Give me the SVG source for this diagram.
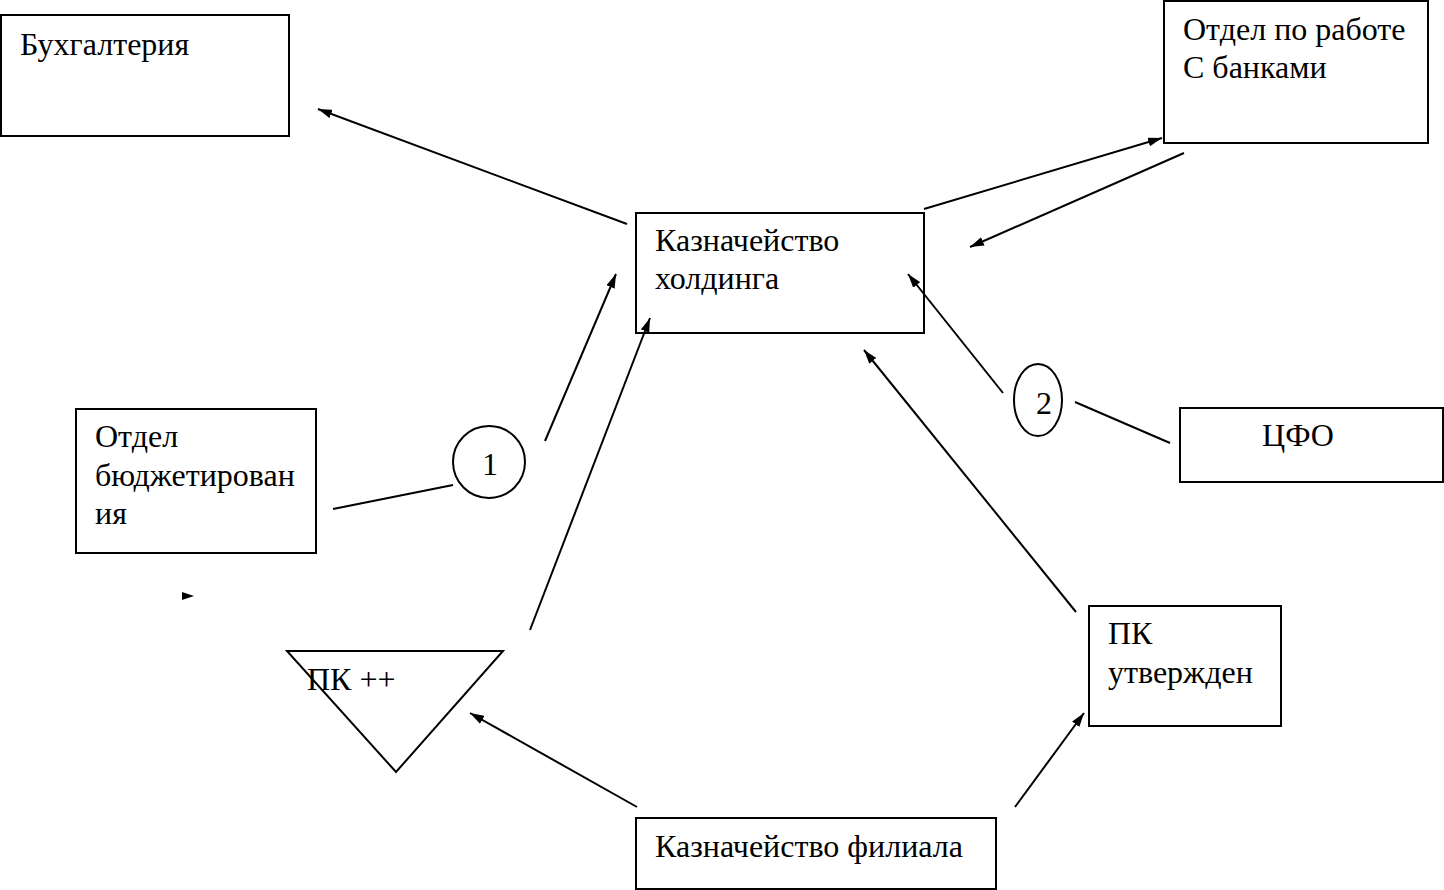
<svg xmlns="http://www.w3.org/2000/svg" width="1444" height="890" viewBox="0 0 1444 890">
<defs>
<marker id="ah" viewBox="0 0 14 9" refX="14" refY="4.5" markerWidth="14" markerHeight="9" markerUnits="userSpaceOnUse" orient="auto">
<path d="M0,0 L14,4.5 L0,9 Z" fill="#000"/>
</marker>
</defs>
<style>
.box{fill:#fff;stroke:#000;stroke-width:2}
.t{font-family:"Liberation Serif","Times New Roman",serif;font-size:32px;fill:#000}
.c{stroke:#000;stroke-width:2;fill:none}
.a{marker-end:url(#ah)}
</style>
<rect width="1444" height="890" fill="#fff"/>
<g id="buh">
<rect class="box" x="1" y="15" width="288" height="121"/>
<text class="t" x="20" y="55">Бухгалтерия</text>
</g>
<g id="banks">
<rect class="box" x="1164" y="1" width="264" height="142"/>
<text class="t" x="1183" y="40">Отдел по работе</text>
<text class="t" x="1183" y="78">С банками</text>
</g>
<g id="holding">
<rect class="box" x="636" y="213" width="288" height="120"/>
<text class="t" x="655" y="251">Казначейство</text>
<text class="t" x="655" y="289">холдинга</text>
</g>
<g id="budget">
<rect class="box" x="76" y="409" width="240" height="144"/>
<text class="t" x="95" y="447">Отдел</text>
<text class="t" x="95" y="486">бюджетирован</text>
<text class="t" x="95" y="524">ия</text>
</g>
<g id="cfo">
<rect class="box" x="1180" y="408" width="263" height="74"/>
<text class="t" x="1298" y="446" text-anchor="middle">ЦФО</text>
</g>
<g id="pk-approved">
<rect class="box" x="1089" y="606" width="192" height="120"/>
<text class="t" x="1108" y="644">ПК</text>
<text class="t" x="1108" y="683">утвержден</text>
</g>
<g id="branch">
<rect class="box" x="636" y="818" width="360" height="71"/>
<text class="t" x="655" y="857">Казначейство филиала</text>
</g>
<g id="pk-plus">
<polygon class="box" points="287,651 503,651 396,772"/>
<text class="t" x="307" y="690">ПК ++</text>
</g>
<g id="circle1">
<circle class="box" cx="489" cy="462" r="36"/>
<text class="t" x="490" y="475" text-anchor="middle">1</text>
</g>
<g id="circle2">
<ellipse class="box" cx="1038" cy="400" rx="24" ry="36"/>
<text class="t" x="1044" y="414" text-anchor="middle">2</text>
</g>
<g id="connectors">
<line class="c a" x1="627" y1="224" x2="318" y2="109"/>
<line class="c a" x1="924" y1="209" x2="1162" y2="138"/>
<line class="c a" x1="1184" y1="153" x2="970" y2="247"/>
<line class="c a" x1="545" y1="441" x2="616" y2="274"/>
<line class="c a" x1="530" y1="630" x2="650" y2="318"/>
<line class="c a" x1="1003" y1="393" x2="908" y2="274"/>
<line class="c" x1="1075" y1="402" x2="1170" y2="443"/>
<line class="c" x1="333" y1="509" x2="453" y2="485"/>
<line class="c a" x1="1076" y1="612" x2="864" y2="350"/>
<line class="c a" x1="637" y1="807" x2="470" y2="713"/>
<line class="c a" x1="1015" y1="807" x2="1084" y2="713"/>
<path d="M182,592 L194,596 L182,600 Z" fill="#000"/>
</g>
</svg>
